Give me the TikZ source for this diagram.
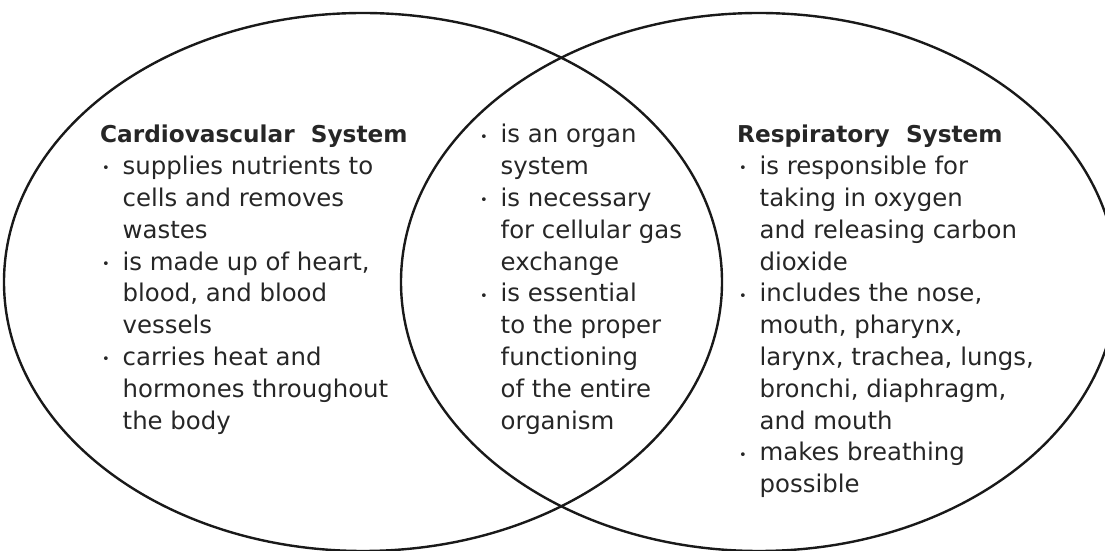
\documentclass[tikz,border=0pt]{standalone}
\usepackage{fontspec}
\setmainfont{DejaVu Sans}

\tikzset{
    venn/.style={line width=2.4pt,draw=black!90},
    block/.style={anchor=base west,inner sep=0pt,align=left,
        font=\fontsize{24.4}{31.8}\selectfont,text=black!85}
}
\newcommand{\itm}{\makebox[22.5pt][l]{\hspace{2pt}\raisebox{1.8pt}{\fontsize{13}{0}\selectfont\textbullet}}}
\newcommand{\ind}{\hspace*{22.5pt}}
\newcommand{\ttl}[1]{{\fontsize{23.2}{31.8}\selectfont\bfseries #1}}

\begin{document}
\begin{tikzpicture}[x=1pt,y=1pt]
\useasboundingbox (0,0) rectangle (1105,551);

% Circles
\draw[venn] (363,269) ellipse [x radius=359,y radius=269];
\draw[venn] (759,269) ellipse [x radius=358,y radius=269];

% Cardiovascular (anchored at last baseline)
\node[block] (cardio) at (100,121.8) {%
\ttl{Cardiovascular\ \ System}\\
\itm supplies nutrients to\\
\ind cells and removes\\
\ind wastes\\
\itm is made up of heart,\\
\ind blood, and blood\\
\ind vessels\\
\itm carries heat and\\
\ind hormones throughout\\
\ind the body};

% Both
\node[block] (shared) at (478,121.8) {%
\itm is an organ\\
\ind system\\
\itm is necessary\\
\ind for cellular gas\\
\ind exchange\\
\itm is essential\\
\ind to the proper\\
\ind functioning\\
\ind of the entire\\
\ind organism};

% Respiratory
\node[block] (resp) at (737,58.2) {%
\ttl{Respiratory\ \ System}\\
\itm is responsible for\\
\ind taking in oxygen\\
\ind and releasing carbon\\
\ind dioxide\\
\itm includes the nose,\\
\ind mouth, pharynx,\\
\ind larynx, trachea, lungs,\\
\ind bronchi, diaphragm,\\
\ind and mouth\\
\itm makes breathing\\
\ind possible};

\end{tikzpicture}
\end{document}
